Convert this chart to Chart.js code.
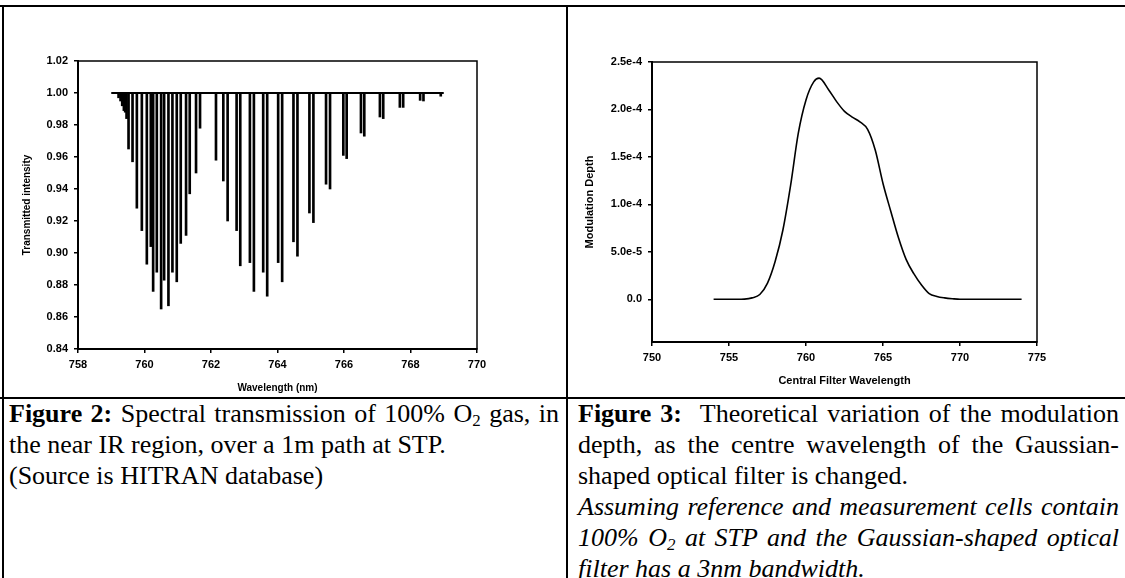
<!DOCTYPE html>
<html>
<head>
<meta charset="utf-8">
<script src="https://cdn.jsdelivr.net/npm/chart.js@4.4.1/dist/chart.umd.min.js"></script>
<style>
  body { margin: 0; background: #fff; width: 1125px; height: 578px; overflow: hidden; position: relative;
         font-family: "Liberation Serif", "Times New Roman", serif; color: #000; }
  canvas { position: absolute; top: 0; }
  #c1 { left: 0; }
  #c2 { left: 566px; }
  .rule { position: absolute; background: #000; z-index: 2; }
  .cap { position: absolute; top: 398px; font-size: 26px; line-height: 31px; }
  .cap div { white-space: normal; }
  .j { text-align: justify; text-align-last: justify; }
  .cap sub { font-size: 65%; vertical-align: -0.25em; line-height: 0; }
</style>
</head>
<body>
<canvas id="c1" width="566" height="398"></canvas>
<canvas id="c2" width="559" height="398"></canvas>

<div class="rule" style="left:0;top:5px;width:1125px;height:2px"></div>
<div class="rule" style="left:2px;top:5px;width:2px;height:573px"></div>
<div class="rule" style="left:566px;top:5px;width:2px;height:573px"></div>
<div class="rule" style="left:0;top:397px;width:1125px;height:2px"></div>

<div class="cap" style="left:9px;width:550px">
  <div class="j"><b>Figure 2:</b> Spectral transmission of 100% O<sub>2</sub> gas, in</div>
  <div>the near IR region, over a 1m path at STP.</div>
  <div>(Source is HITRAN database)</div>
</div>
<div class="cap" style="left:578px;width:541px">
  <div class="j"><b>Figure 3:</b>&nbsp; Theoretical variation of the modulation</div>
  <div class="j">depth, as the centre wavelength of the Gaussian-</div>
  <div>shaped optical filter is changed.</div>
  <div class="j"><i>Assuming reference and measurement cells contain</i></div>
  <div class="j"><i>100% O<sub>2</sub> at STP and the Gaussian-shaped optical</i></div>
  <div><i>filter has a 3nm bandwidth.</i></div>
</div>

<script>
// Figure 2: O2 absorption lines (centre wavelength, minimum transmission)
const lineWl = [759.22, 759.28, 759.33, 759.38, 759.42, 759.46, 759.52, 759.64, 759.77, 759.92,
                760.07, 760.19, 760.26, 760.37, 760.50, 760.59, 760.72, 760.84, 760.97, 761.09,
                761.25, 761.36, 761.55, 761.67, 762.15, 762.37, 762.50, 762.77, 762.88, 763.17,
                763.29, 763.57, 763.69, 764.02, 764.14, 764.48, 764.60, 764.96, 765.08, 765.46,
                765.58, 765.98, 766.08, 766.51, 766.61, 767.08, 767.18, 767.68, 767.78, 768.29,
                768.39, 768.91];
const lineMin = [0.997, 0.995, 0.992, 0.989, 0.988, 0.984, 0.965, 0.957, 0.928, 0.914,
                 0.893, 0.904, 0.876, 0.888, 0.865, 0.883, 0.867, 0.888, 0.882, 0.906,
                 0.911, 0.937, 0.950, 0.978, 0.958, 0.945, 0.920, 0.914, 0.892, 0.894,
                 0.876, 0.888, 0.873, 0.894, 0.882, 0.907, 0.898, 0.925, 0.919, 0.943,
                 0.940, 0.961, 0.959, 0.975, 0.973, 0.985, 0.984, 0.991, 0.991, 0.9954,
                 0.995, 0.998];
const baselineRange = [759.0, 769.0];
const leftXTicks = [758, 760, 762, 764, 766, 768, 770];
const leftYTicks = [0.84, 0.86, 0.88, 0.90, 0.92, 0.94, 0.96, 0.98, 1.00, 1.02];
const leftYLabels = ['0.84', '0.86', '0.88', '0.90', '0.92', '0.94', '0.96', '0.98', '1.00', '1.02'];

// Figure 3: modulation depth vs filter centre wavelength
const filterCentre = [754, 754.5, 755, 755.5, 756, 756.5, 757, 757.5, 758, 758.5,
                      759, 759.5, 760, 760.5, 760.85, 761.5, 762, 762.5, 763, 763.5,
                      764, 764.5, 765, 765.5, 766, 766.5, 767, 767.5, 768, 768.5,
                      769, 769.5, 770, 771, 772, 773, 774];
const modDepth = [0, 0, 0, 0, 2e-7, 1.5e-6, 5e-6, 1.7e-5, 4e-5, 7.3e-5,
                  1.2e-4, 1.75e-4, 2.1e-4, 2.29e-4, 2.33e-4, 2.2e-4, 2.08e-4, 1.98e-4, 1.92e-4, 1.87e-4,
                  1.79e-4, 1.57e-4, 1.22e-4, 9.3e-5, 6.5e-5, 4.2e-5, 2.7e-5, 1.5e-5, 6e-6, 3e-6,
                  1.5e-6, 6e-7, 0, 0, 0, 0, 0];
const rightXTicks = [750, 755, 760, 765, 770, 775];
const rightYTicks = [0, 5e-5, 1e-4, 1.5e-4, 2e-4, 2.5e-4];
const rightYLabels = ['0.0', '5.0e-5', '1.0e-4', '1.5e-4', '2.0e-4', '2.5e-4'];

Chart.defaults.font.family = '"Liberation Sans", Arial, sans-serif';
Chart.defaults.color = '#000';

// box round the plot area
const frame = {
  id: 'frame',
  afterDraw(chart) {
    const { ctx, chartArea: a } = chart;
    ctx.save();
    ctx.strokeStyle = '#000';
    ctx.lineWidth = 1.5;
    ctx.strokeRect(a.left, a.top, a.right - a.left, a.bottom - a.top);
    ctx.restore();
  }
};

function axis(opts) {
  return Object.assign({
    type: 'linear',
    offset: false,
    grid: { display: true, drawOnChartArea: false, drawTicks: true, tickLength: 4, color: '#000', lineWidth: 1.5, offset: false },
    border: { display: true, color: '#000', width: 2 }
  }, opts);
}

new Chart(document.getElementById('c1'), {
  type: 'bar',
  data: {
    datasets: [
      { type: 'line', data: baselineRange.map(x => ({ x: x, y: 1.0 })),
        borderColor: '#000', borderWidth: 2, pointRadius: 0 },
      { data: lineWl.map((x, i) => ({ x: x, y: [lineMin[i], 1.0] })),
        backgroundColor: '#000', borderWidth: 0, barThickness: 2 }
    ]
  },
  options: {
    responsive: false,
    animation: false,
    layout: { padding: { left: 0, top: 61, right: 89, bottom: 0 } },
    plugins: { legend: { display: false }, tooltip: { enabled: false } },
    scales: {
      x: axis({
        min: 758, max: 770,
        afterBuildTicks: s => { s.ticks = leftXTicks.map(v => ({ value: v })); },
        afterFit: s => { s.height = 49; },
        ticks: { padding: 5, maxRotation: 0, autoSkip: false, font: { size: 11, weight: 'bold' } },
        title: { display: true, text: 'Wavelength (nm)', padding: { top: 0, bottom: 4 }, font: { size: 10, weight: 'bold' } }
      }),
      y: axis({
        min: 0.84, max: 1.02,
        afterBuildTicks: s => { s.ticks = leftYTicks.map(v => ({ value: v })); },
        afterFit: s => { s.width = 78; },
        ticks: { padding: 6, autoSkip: false, font: { size: 11, weight: 'bold' },
                 callback: (v, i) => leftYLabels[i] },
        title: { display: true, text: 'Transmitted intensity', padding: { top: 21, bottom: 0 }, font: { size: 10, weight: 'bold' } }
      })
    }
  },
  plugins: [frame]
});

new Chart(document.getElementById('c2'), {
  type: 'line',
  data: {
    datasets: [
      { data: filterCentre.map((x, i) => ({ x: x, y: modDepth[i] })),
        borderColor: '#000', borderWidth: 1.6, pointRadius: 0, cubicInterpolationMode: 'monotone' }
    ]
  },
  options: {
    responsive: false,
    animation: false,
    layout: { padding: { left: 0, top: 62, right: 88, bottom: 0 } },
    plugins: { legend: { display: false }, tooltip: { enabled: false } },
    scales: {
      x: axis({
        min: 750, max: 775,
        afterBuildTicks: s => { s.ticks = rightXTicks.map(v => ({ value: v })); },
        afterFit: s => { s.height = 56; },
        ticks: { padding: 5, maxRotation: 0, autoSkip: false, font: { size: 11, weight: 'bold' } },
        title: { display: true, text: 'Central Filter Wavelength', padding: { top: 0, bottom: 10 }, font: { size: 11, weight: 'bold' } }
      }),
      y: axis({
        min: -4.5e-5, max: 2.5e-4,
        afterBuildTicks: s => { s.ticks = rightYTicks.map(v => ({ value: v })); },
        afterFit: s => { s.width = 86; },
        ticks: { padding: 6, autoSkip: false, font: { size: 11, weight: 'bold' },
                 callback: (v, i) => rightYLabels[i] },
        title: { display: true, text: 'Modulation Depth', padding: { top: 17, bottom: 0 }, font: { size: 11, weight: 'bold' } }
      })
    }
  },
  plugins: [frame]
});
</script>
</body>
</html>
